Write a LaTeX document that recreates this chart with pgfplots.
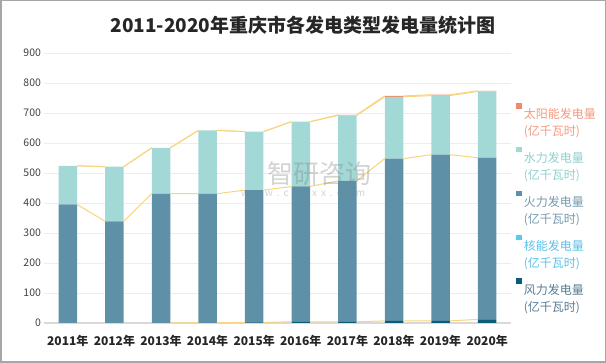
\documentclass[border=0pt]{standalone}
\usepackage{fontspec}
\setmainfont{Noto Sans CJK SC}
\usepackage{pgfplots}
\pgfplotsset{compat=1.18}
\definecolor{solar}{HTML}{F0896C}
\definecolor{hydro}{HTML}{A2D8D5}
\definecolor{thermal}{HTML}{5E91A7}
\definecolor{nuclear}{HTML}{5BC8EE}
\definecolor{wind}{HTML}{0B5C7B}
\definecolor{solarT}{HTML}{F29A80}
\definecolor{hydroT}{HTML}{8ED0CC}
\definecolor{thermalT}{HTML}{7498AC}
\definecolor{nuclearT}{HTML}{5CC0E8}
\definecolor{windT}{HTML}{557C94}
\definecolor{lineY}{HTML}{F8D47E}
\definecolor{gridG}{HTML}{EDEDED}
\definecolor{axisG}{HTML}{D9D9D9}
\definecolor{frameG}{HTML}{A6A6A6}
\definecolor{tickG}{HTML}{404040}
\pgfplotsset{base/.style={at={(44.5pt,40pt)}, anchor=south west, scale only axis,
  width=466pt, height=270pt, xmin=-0.5, xmax=9.5, ymin=0, ymax=900}}
\begin{document}
\begin{tikzpicture}
\path[use as bounding box] (0,0) rectangle (606pt,363pt);
\draw[frameG, line width=1.5pt] (0.75pt,0.75pt) rectangle (605.25pt,362.25pt);
\node[font=\fontsize{19}{22}\selectfont\bfseries, text=black!85] at (303pt,338pt) {2011-2020年重庆市各发电类型发电量统计图};
\begin{axis}[base, ybar stacked, bar width=18.5pt,
  axis lines*=left, axis line style={-}, y axis line style={draw=none},
  x axis line style={draw=axisG, line width=1.2pt},
  major tick length=0pt,
  ytick={0,100,...,900}, xtick={0,...,9},
  xticklabels={2011年,2012年,2013年,2014年,2015年,2016年,2017年,2018年,2019年,2020年},
  ymajorgrids, grid style={draw=gridG, line width=0.8pt},
  /pgf/number format/assume math mode=true,
  yticklabel style={font=\fontsize{10.5}{12}\selectfont, text=tickG},
  xticklabel style={font=\fontsize{12}{14}\selectfont\bfseries, text=black!85, yshift=-9pt},
  reverse legend,
  legend image code/.code={\fill[#1] (0pt,14.5pt) rectangle (5.5pt,20pt);},
  legend style={at={(rel axis cs:1.012,0.815)}, anchor=north west, draw=none, fill=none,
    font=\fontsize{12}{17}\selectfont, row sep=7.5pt, inner sep=0pt,
    cells={align=left, anchor=west}},
]
\addplot[fill=wind, draw=none] coordinates {(0,0) (1,0) (2,0) (3,1) (4,2) (5,4) (6,4) (7,7) (8,7) (9,12)};
\addlegendentry[text=windT]{风力发电量\\(亿千瓦时)}
\addplot[fill=nuclear, draw=none] coordinates {(0,0) (1,0) (2,0) (3,0) (4,0) (5,0) (6,0) (7,0) (8,0) (9,0)};
\addlegendentry[text=nuclearT]{核能发电量\\(亿千瓦时)}
\addplot[fill=thermal, draw=none] coordinates {(0,395) (1,339) (2,431) (3,430) (4,441) (5,451) (6,470) (7,541) (8,554) (9,539)};
\addlegendentry[text=thermalT]{火力发电量\\(亿千瓦时)}
\addplot[fill=hydro, draw=none] coordinates {(0,129) (1,182) (2,153) (3,211) (4,195) (5,216) (6,218) (7,206) (8,197) (9,221)};
\addlegendentry[text=hydroT]{水力发电量\\(亿千瓦时)}
\addplot[fill=solar, draw=none] coordinates {(0,0) (1,0) (2,0) (3,0) (4,0) (5,0) (6,2) (7,3) (8,3) (9,2)};
\addlegendentry[text=solarT]{太阳能发电量\\(亿千瓦时)}
\end{axis}
\begin{axis}[base, hide axis, unbounded coords=jump]
\addplot[lineY, line width=1pt, no markers] coordinates {(2.2,0)(2.8,1) (nan,nan) (3.2,1)(3.8,2) (nan,nan) (4.2,2)(4.8,4) (nan,nan) (5.2,4)(5.8,4) (nan,nan) (6.2,4)(6.8,7) (nan,nan) (7.2,7)(7.8,7) (nan,nan) (8.2,7)(8.8,12)};
\addplot[lineY, line width=1pt, no markers] coordinates {(0.2,395)(0.8,339) (nan,nan) (1.2,339)(1.8,431) (nan,nan) (2.2,431)(2.8,431) (nan,nan) (3.2,431)(3.8,443) (nan,nan) (4.2,443)(4.8,455) (nan,nan) (5.2,455)(5.8,474) (nan,nan) (6.2,474)(6.8,548) (nan,nan) (7.2,548)(7.8,561) (nan,nan) (8.2,561)(8.8,551)};
\addplot[lineY, line width=1pt, no markers] coordinates {(0.2,524)(0.8,521) (nan,nan) (1.2,521)(1.8,584) (nan,nan) (2.2,584)(2.8,642) (nan,nan) (3.2,642)(3.8,638) (nan,nan) (4.2,638)(4.8,671) (nan,nan) (5.2,671)(5.8,692) (nan,nan) (6.2,692)(6.8,754) (nan,nan) (7.2,754)(7.8,758) (nan,nan) (8.2,758)(8.8,772)};
\addplot[lineY, line width=1pt, no markers] coordinates {(0.2,524)(0.8,521) (nan,nan) (1.2,521)(1.8,584) (nan,nan) (2.2,584)(2.8,642) (nan,nan) (3.2,642)(3.8,638) (nan,nan) (4.2,638)(4.8,671) (nan,nan) (5.2,671)(5.8,694) (nan,nan) (6.2,694)(6.8,757) (nan,nan) (7.2,757)(7.8,761) (nan,nan) (8.2,761)(8.8,774)};
\end{axis}
\node[font=\fontsize{26}{28}\selectfont, text=gray, opacity=0.35] at (319pt,189pt) {智研咨询};
\node[font=\fontsize{10}{12}\selectfont, text=gray, opacity=0.35] at (303pt,169pt) {w\hspace{4pt}w\hspace{4pt}w\hspace{4pt}.\hspace{4pt}c\hspace{4pt}h\hspace{4pt}y\hspace{4pt}x\hspace{4pt}x\hspace{4pt}.\hspace{4pt}c\hspace{4pt}o\hspace{4pt}m};
\end{tikzpicture}
\end{document}
